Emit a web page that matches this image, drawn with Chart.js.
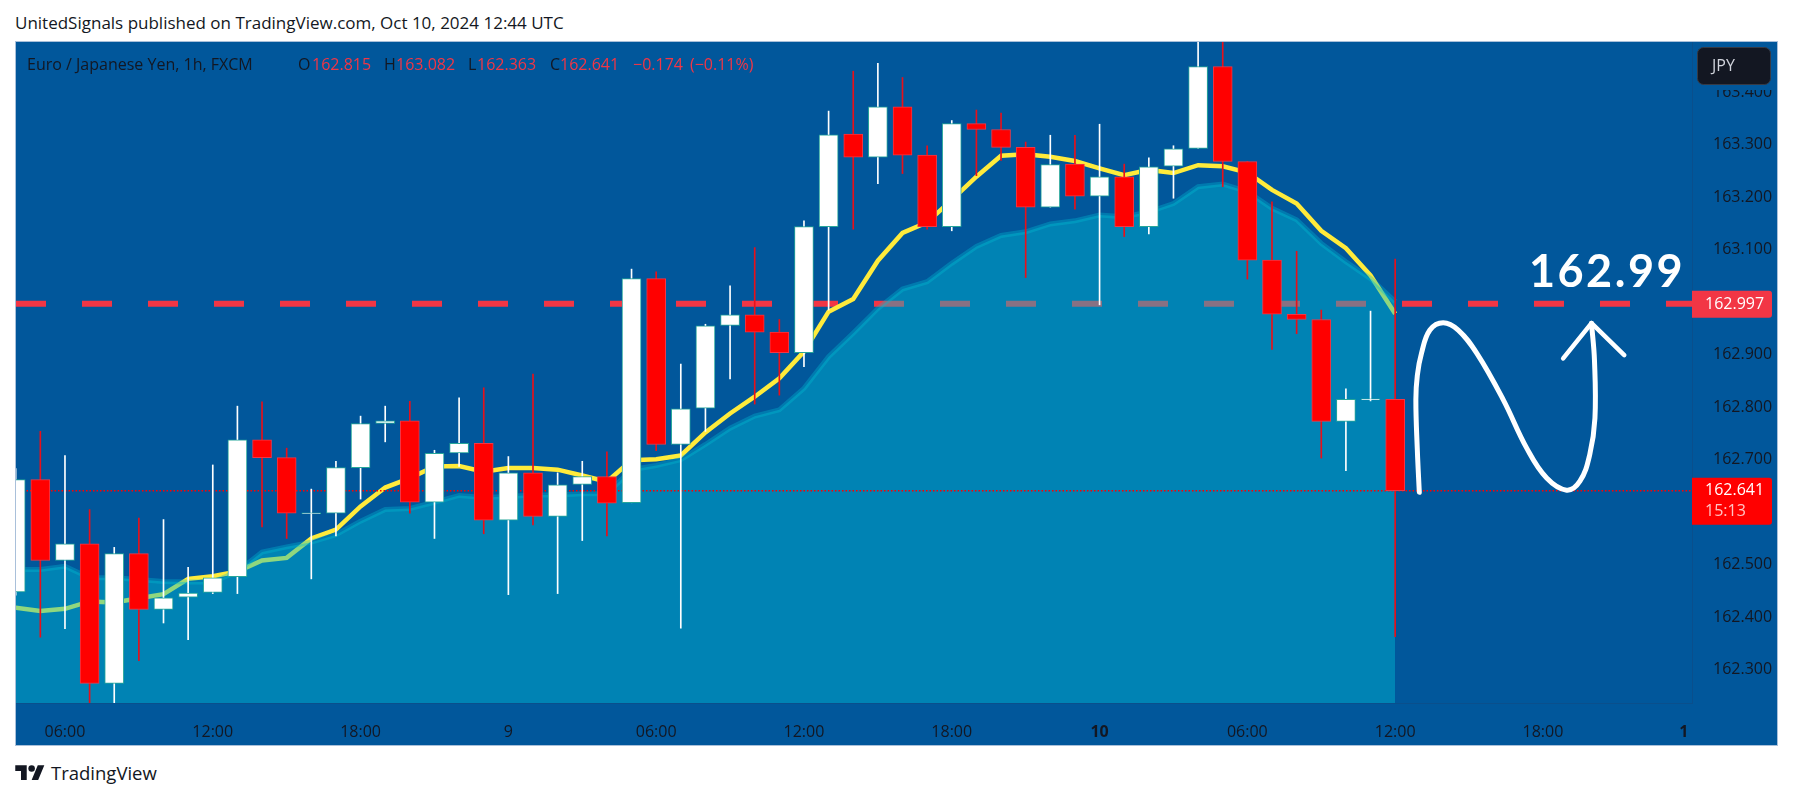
<!DOCTYPE html>
<html>
<head>
<meta charset="utf-8">
<title>EUR/JPY 1h</title>
<script src="https://cdn.jsdelivr.net/npm/chart.js@4"></script>
<style>
  html, body { margin: 0; padding: 0; background: #fff; width: 1793px; height: 798px; overflow: hidden; }
  body { font-family: "Open Sans", sans-serif; color: #131722; position: relative; }
  #title { position: absolute; left: 15px; top: 12px; font-size: 17px; font-weight: 500; line-height: 22px; white-space: nowrap; }
  #pane { position: absolute; left: 15px; top: 41px; width: 1761px; height: 703px; border: 1px solid #a9c0da; background: #01579b; }
  #pane canvas { position: absolute; left: 0; top: 0; }
  #legend span { position: absolute; top: 53px; font-size: 16px; font-weight: 500; line-height: 22px; white-space: nowrap; color: #131722; }
  #legend span.red { color: #f23645; }
  #brand { position: absolute; left: 15px; top: 762px; height: 20px; }
  #brand svg { position: absolute; left: 0; top: 0; }
  #brand b { position: absolute; left: 36px; top: 0; font-weight: 500; font-size: 18.5px; line-height: 22px; }
</style>
</head>
<body>
<div id="title">UnitedSignals published on TradingView.com, Oct 10, 2024 12:44 UTC</div>
<div id="pane"><canvas id="chart" width="1760" height="703"></canvas></div>
<div id="legend">
  <span style="left:27px">Euro / Japanese Yen, 1h, FXCM</span>
  <span style="left:298px">O</span><span class="red" style="left:312px">162.815</span>
  <span style="left:384px">H</span><span class="red" style="left:396px">163.082</span>
  <span style="left:468px">L</span><span class="red" style="left:477px">162.363</span>
  <span style="left:550px">C</span><span class="red" style="left:560px">162.641</span>
  <span class="red" style="left:633px">−0.174</span><span class="red" style="left:690px">(−0.11%)</span>
</div>
<div id="brand">
  <svg width="30" height="18" viewBox="0 0 36 22"><path fill="#131722" d="M14 22H7V11H0V4h14v18zM28 22h-8l7.5-18h8L28 22z"/><circle fill="#131722" cx="20" cy="8" r="4"/></svg>
  <b>TradingView</b>
</div>
<script>
// hourly candles, Oct 8 04:00 .. Oct 10 12:00
const opens = [162.448,162.662,162.508,162.540,162.274,162.521,162.415,162.438,162.447,162.477,162.738,162.704,162.597,162.598,162.685,162.769,162.774,162.619,162.713,162.731,162.585,162.675,162.592,162.653,162.668,162.618,163.045,162.729,162.798,162.956,162.976,162.943,162.904,163.144,163.320,163.276,163.372,163.280,163.144,163.340,163.329,163.295,163.181,163.263,163.202,163.239,163.144,163.259,163.293,163.449,163.268,163.080,162.977,162.967,162.773,162.814,162.815];
const highs = [162.683,162.754,162.708,162.605,162.533,162.589,162.586,162.495,162.690,162.802,162.810,162.722,162.644,162.697,162.783,162.802,162.811,162.718,162.818,162.837,162.706,162.863,162.675,162.697,162.715,163.063,163.058,162.882,162.958,163.031,163.104,162.967,163.155,163.364,163.440,163.455,163.428,163.298,163.346,163.366,163.360,163.305,163.318,163.318,163.339,163.263,163.275,163.298,163.520,163.520,163.268,163.191,163.097,162.985,162.835,162.983,163.082];
const lows = [162.442,162.362,162.378,162.230,162.230,162.317,162.389,162.357,162.445,162.445,162.572,162.550,162.473,162.555,162.625,162.734,162.598,162.550,162.687,162.559,162.443,162.576,162.445,162.546,162.555,162.618,162.717,162.379,162.754,162.854,162.806,162.823,162.877,162.985,163.139,163.226,163.245,163.139,163.136,163.241,163.270,163.047,163.181,163.177,162.995,163.125,163.130,163.198,163.293,163.220,163.044,162.910,162.940,162.703,162.679,162.812,162.363];
const closes = [162.662,162.508,162.540,162.274,162.521,162.415,162.437,162.446,162.475,162.738,162.704,162.598,162.599,162.685,162.769,162.774,162.619,162.712,162.731,162.585,162.675,162.592,162.652,162.668,162.617,163.045,162.729,162.797,162.955,162.976,162.943,162.904,163.144,163.319,163.276,163.372,163.280,163.144,163.340,163.329,163.295,163.181,163.262,163.202,163.239,163.144,163.258,163.292,163.449,163.268,163.080,162.977,162.967,162.773,162.815,162.816,162.641];

// yellow average and the cyan area top
const fastLine = [162.418,162.412,162.416,162.430,162.428,162.436,162.444,162.473,162.478,162.487,162.508,162.513,162.550,162.567,162.611,162.647,162.665,162.687,162.688,162.677,162.684,162.684,162.681,162.670,162.658,162.699,162.701,162.708,162.752,162.788,162.820,162.855,162.906,162.982,163.006,163.079,163.132,163.152,163.195,163.239,163.279,163.282,163.277,163.269,163.255,163.242,163.252,163.246,163.261,163.259,163.247,163.214,163.188,163.136,163.103,163.051,162.978];
const areaLine = [162.491,162.491,162.497,162.475,162.475,162.472,162.468,162.467,162.467,162.487,162.524,162.534,162.543,162.557,162.583,162.605,162.607,162.619,162.632,162.628,162.630,162.633,162.633,162.635,162.635,162.681,162.689,162.700,162.729,162.760,162.783,162.795,162.836,162.896,162.941,162.988,163.025,163.039,163.074,163.106,163.127,163.134,163.149,163.155,163.166,163.163,163.172,163.188,163.220,163.225,163.211,163.179,163.157,163.112,163.077,163.045,163.001];

const priceTicks = [162.3,162.4,162.5,162.7,162.8,162.9,163.1,163.2,163.3,163.4];
const timeTickIndex = [2,8,14,20,26,32,38,44,50,56,62,67.72];
const timeTickLabels = ['06:00','12:00','18:00','9','06:00','12:00','18:00','10','06:00','12:00','18:00','1'];
const boldLabels = ['10','1'];

const levelPrice = 162.997;
const lastPrice = 162.641;
const levelText = '162.99';

// hand drawn swing and arrow head
const swingX = [56.98,56.90,56.84,56.90,57.07,57.41,57.95,58.56,59.31,60.39,61.34,62.15,62.96,63.50,63.90,64.11,64.09,63.97];
const swingY = [162.638,162.718,162.814,162.861,162.903,162.947,162.961,162.947,162.903,162.814,162.722,162.665,162.642,162.659,162.710,162.779,162.890,162.960];
const arrowX = [62.82,63.97,65.30];
const arrowY = [162.893,162.960,162.899];

const xMin = 0.012, xMax = 68.05;
const yMin = 162.2366, yMax = 163.4956;
const paneBlue = '#01579b';
const font = '"Open Sans", sans-serif';

const pts = (xs, ys) => xs.map((x, i) => ({ x: x, y: ys[i] }));
const seq = ys => ys.map((y, i) => ({ x: i, y: y }));
const isUp = i => closes[i] >= opens[i];

// price tags, badge and the big level text sit on top of everything
const overlays = {
  id: 'overlays',
  afterDraw(chart) {
    const { ctx, scales: { x, y }, chartArea } = chart;
    const left = chartArea.right;
    ctx.save();
    ctx.textBaseline = 'middle';
    ctx.textAlign = 'left';

    // level tag
    let py = y.getPixelForValue(levelPrice);
    ctx.fillStyle = '#f23645';
    ctx.beginPath();
    ctx.roundRect(left, py - 13, 80, 27, [0, 3, 3, 0]);
    ctx.fill();
    ctx.fillStyle = '#fff';
    ctx.font = '500 16px ' + font;
    ctx.fillText(levelPrice.toFixed(3), left + 13, py + 1);

    // last price tag with countdown
    py = y.getPixelForValue(lastPrice);
    ctx.fillStyle = '#ff0000';
    ctx.beginPath();
    ctx.roundRect(left, py - 13, 80, 47, [0, 3, 3, 0]);
    ctx.fill();
    ctx.fillStyle = '#fff';
    ctx.fillText(lastPrice.toFixed(3), left + 13, py);
    ctx.fillStyle = '#ffc4c4';
    ctx.fillText('15:13', left + 13, py + 21);

    // JPY badge covers the top of the scale
    ctx.fillStyle = paneBlue;
    ctx.fillRect(left + 1, 0, 83, 48);
    ctx.fillStyle = '#131722';
    ctx.strokeStyle = '#363a45';
    ctx.beginPath();
    ctx.roundRect(left + 5.5, 5.5, 73, 37, 6);
    ctx.fill();
    ctx.stroke();
    ctx.fillStyle = '#d1d4dc';
    ctx.fillText('JPY', left + 20, 24);

    // big label above the level
    ctx.fillStyle = '#fff';
    ctx.textAlign = 'center';
    ctx.textBaseline = 'alphabetic';
    ctx.font = '700 45px Lato, sans-serif';
    ctx.letterSpacing = '2.5px';
    ctx.fillText(levelText, x.getPixelForValue(64.6), y.getPixelForValue(163.029));
    ctx.restore();
  }
};

new Chart(document.getElementById('chart'), {
  type: 'bar',
  data: {
    datasets: [
      { type: 'line', order: 10, data: pts([xMin, xMax], [levelPrice, levelPrice]), borderColor: '#f23645', borderWidth: 6, borderDash: [30, 36], pointRadius: 0 },
      { type: 'line', order: 9, data: seq(fastLine), borderColor: '#ffeb3b', borderWidth: 4.5, pointRadius: 0 },
      { type: 'line', order: 8, data: seq(areaLine), borderColor: 'rgba(0,188,212,0.35)', borderWidth: 5, pointRadius: 0, fill: 'start', backgroundColor: 'rgba(0,188,212,0.44)' },
      { type: 'line', order: 7, data: pts([xMin, xMax], [lastPrice, lastPrice]), borderColor: '#ff0000', borderWidth: 1.5, borderDash: [1.5, 2], pointRadius: 0 },
      // wicks
      { order: 6, data: highs.map((h, i) => ({ x: i, y: [lows[i], h] })), barThickness: 1, grouped: false,
        backgroundColor: ctx => isUp(ctx.dataIndex) ? '#ffffff' : '#e8101a' },
      // bodies
      { order: 5, data: opens.map((o, i) => ({ x: i, y: [o, closes[i]] })), barThickness: 19, grouped: false, borderWidth: 1, borderSkipped: false,
        backgroundColor: ctx => isUp(ctx.dataIndex) ? '#ffffff' : '#ff0000',
        borderColor: ctx => isUp(ctx.dataIndex) ? '#26a69a' : '#f23645' },
      { type: 'line', order: 4, data: pts(swingX, swingY), borderColor: '#ffffff', borderWidth: 5, tension: 0.4, borderCapStyle: 'round', pointRadius: 0 },
      { type: 'line', order: 3, data: pts(arrowX, arrowY), borderColor: '#ffffff', borderWidth: 4.5, borderCapStyle: 'round', borderJoinStyle: 'round', pointRadius: 0 }
    ]
  },
  options: {
    responsive: false,
    animation: false,
    events: [],
    layout: { padding: 0, autoPadding: false },
    plugins: { legend: { display: false }, tooltip: { enabled: false } },
    scales: {
      x: {
        type: 'linear',
        offset: false,
        min: xMin,
        max: xMax,
        grid: { display: false },
        border: { display: true, color: '#0a4f8c' },
        afterBuildTicks: s => { s.ticks = timeTickIndex.map(v => ({ value: v })); },
        afterFit: s => { s.height = 42; s.paddingLeft = 0; s.paddingRight = 0; },
        ticks: {
          autoSkip: false,
          maxRotation: 0,
          padding: 12,
          color: '#131722',
          font: ctx => ({ family: font, size: 16, weight: boldLabels.includes(timeTickLabels[ctx.index]) ? 700 : 500 }),
          callback: (v, i) => timeTickLabels[i]
        }
      },
      y: {
        type: 'linear',
        position: 'right',
        min: yMin,
        max: yMax,
        grid: { display: false },
        border: { display: true, color: '#0a4f8c' },
        afterBuildTicks: s => { s.ticks = priceTicks.map(v => ({ value: v })); },
        afterFit: s => { s.width = 84; s.paddingTop = 0; s.paddingBottom = 0; },
        ticks: {
          autoSkip: false,
          padding: 13,
          color: '#131722',
          font: { family: font, size: 16, weight: 500 },
          callback: v => v.toFixed(3)
        }
      }
    }
  },
  plugins: [overlays]
});
</script>
</body>
</html>
